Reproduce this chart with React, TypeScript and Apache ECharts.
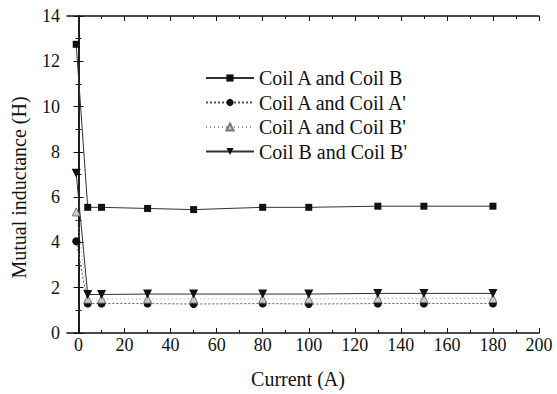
import React, { useEffect, useRef } from "react";
import * as echarts from "echarts";

const currents = [-1, 4, 10, 30, 50, 80, 100, 130, 150, 180];
const coilAandB = [12.75, 5.55, 5.55, 5.5, 5.45, 5.55, 5.55, 5.6, 5.6, 5.6];
const coilAandA2 = [4.05, 1.3, 1.3, 1.3, 1.28, 1.3, 1.28, 1.3, 1.3, 1.3];
const coilAandB2 = [5.35, 1.5, 1.5, 1.5, 1.5, 1.5, 1.5, 1.52, 1.52, 1.52];
const coilBandB2 = [7.05, 1.7, 1.7, 1.72, 1.72, 1.72, 1.72, 1.75, 1.75, 1.75];
const seriesNames = ["Coil A and Coil B", "Coil A and Coil A'", "Coil A and Coil B'", "Coil B and Coil B'"];
const xMajor = [0, 20, 40, 60, 80, 100, 120, 140, 160, 180, 200];
const xMinor = [10, 30, 50, 70, 90, 110, 130, 150, 170, 190];

const FONT = "Liberation Serif";

export default function App() {
  const ref = useRef<HTMLDivElement>(null);
  useEffect(() => {
    document.body.style.margin = "0";
    const chart = echarts.init(ref.current!, null, { renderer: "svg" });
    const pair = (ys: number[]) => currents.map((x, i) => [x, ys[i]]);
    const axisLine = { show: true, lineStyle: { color: "#111", width: 1.5 } };
    const labelStyle = { color: "#111", fontFamily: FONT, fontSize: 18 };
    const nameStyle = { color: "#111", fontFamily: FONT, fontSize: 20 };
    const xBase = { type: "value", min: -5, max: 200, splitLine: { show: false }, gridIndex: 0 };
    const yBase = { type: "value", min: 0, max: 14, interval: 2, splitLine: { show: false }, gridIndex: 0 };
    chart.setOption({
      animation: false,
      backgroundColor: "#fff",
      textStyle: { fontFamily: FONT },
      grid: { left: 67, right: 18, top: 16, bottom: 61, containLabel: false },
      legend: {
        orient: "vertical",
        left: 200,
        top: 63,
        itemWidth: 48,
        itemHeight: 9,
        itemGap: 4.5,
        textStyle: { color: "#111", fontFamily: FONT, fontSize: 20 },
        data: seriesNames,
      },
      xAxis: [
        {
          ...xBase,
          position: "bottom",
          axisLine,
          axisTick: { show: true, inside: true, length: 5, customValues: xMajor, lineStyle: { color: "#111" } },
          axisLabel: { ...labelStyle, customValues: xMajor, margin: 3 },
          name: "Current (A)",
          nameLocation: "middle",
          nameGap: 36,
          nameTextStyle: { ...nameStyle, padding: [0, 10, 0, 0] },
        },
        {
          ...xBase,
          position: "bottom",
          axisLine: { show: false },
          axisTick: { show: true, inside: true, length: 3, customValues: xMinor, lineStyle: { color: "#111" } },
          axisLabel: { show: false },
        },
        {
          ...xBase,
          position: "top",
          axisLine,
          axisTick: { show: true, inside: true, length: 5, customValues: xMajor, lineStyle: { color: "#111" } },
          axisLabel: { show: false },
        },
        {
          ...xBase,
          position: "top",
          axisLine: { show: false },
          axisTick: { show: true, inside: true, length: 3, customValues: xMinor, lineStyle: { color: "#111" } },
          axisLabel: { show: false },
        },
      ],
      yAxis: [
        {
          ...yBase,
          position: "left",
          axisLine,
          axisTick: { show: true, inside: true, length: 5, lineStyle: { color: "#111" } },
          minorTick: { show: true, splitNumber: 2, length: 3, lineStyle: { color: "#111" } },
          axisLabel: { ...labelStyle, margin: 7 },
          name: "Mutual inductance (H)",
          nameLocation: "middle",
          nameGap: 38,
          nameTextStyle: { ...nameStyle, padding: [0, 26, 0, 0] },
        },
        {
          ...yBase,
          position: "right",
          axisLine,
          axisTick: { show: true, inside: true, length: 5, lineStyle: { color: "#111" } },
          minorTick: { show: true, splitNumber: 2, length: 3, lineStyle: { color: "#111" } },
          axisLabel: { show: false },
        },
      ],
      series: [
        {
          name: seriesNames[0],
          type: "line",
          data: pair(coilAandB),
          symbol: "rect",
          symbolSize: 7,
          itemStyle: { color: "#111" },
          lineStyle: { color: "#333", width: 1, type: "solid" },
        },
        {
          name: seriesNames[1],
          type: "line",
          data: pair(coilAandA2),
          symbol: "circle",
          symbolSize: 8,
          itemStyle: { color: "#111" },
          lineStyle: { color: "#555", width: 1, type: [2, 2] },
        },
        {
          name: seriesNames[2],
          type: "line",
          data: pair(coilAandB2),
          symbol: "triangle",
          symbolSize: 8,
          itemStyle: { color: "#ccc", borderColor: "#777", borderWidth: 1 },
          lineStyle: { color: "#999", width: 1, type: [1, 3] },
        },
        {
          name: seriesNames[3],
          type: "line",
          data: pair(coilBandB2),
          symbol: "triangle",
          symbolRotate: 180,
          symbolSize: 9,
          itemStyle: { color: "#111" },
          lineStyle: { color: "#333", width: 1, type: "solid" },
        },
      ],
    });
    return () => chart.dispose();
  }, []);
  return <div ref={ref} style={{ width: 557, height: 394 }} />;
}
